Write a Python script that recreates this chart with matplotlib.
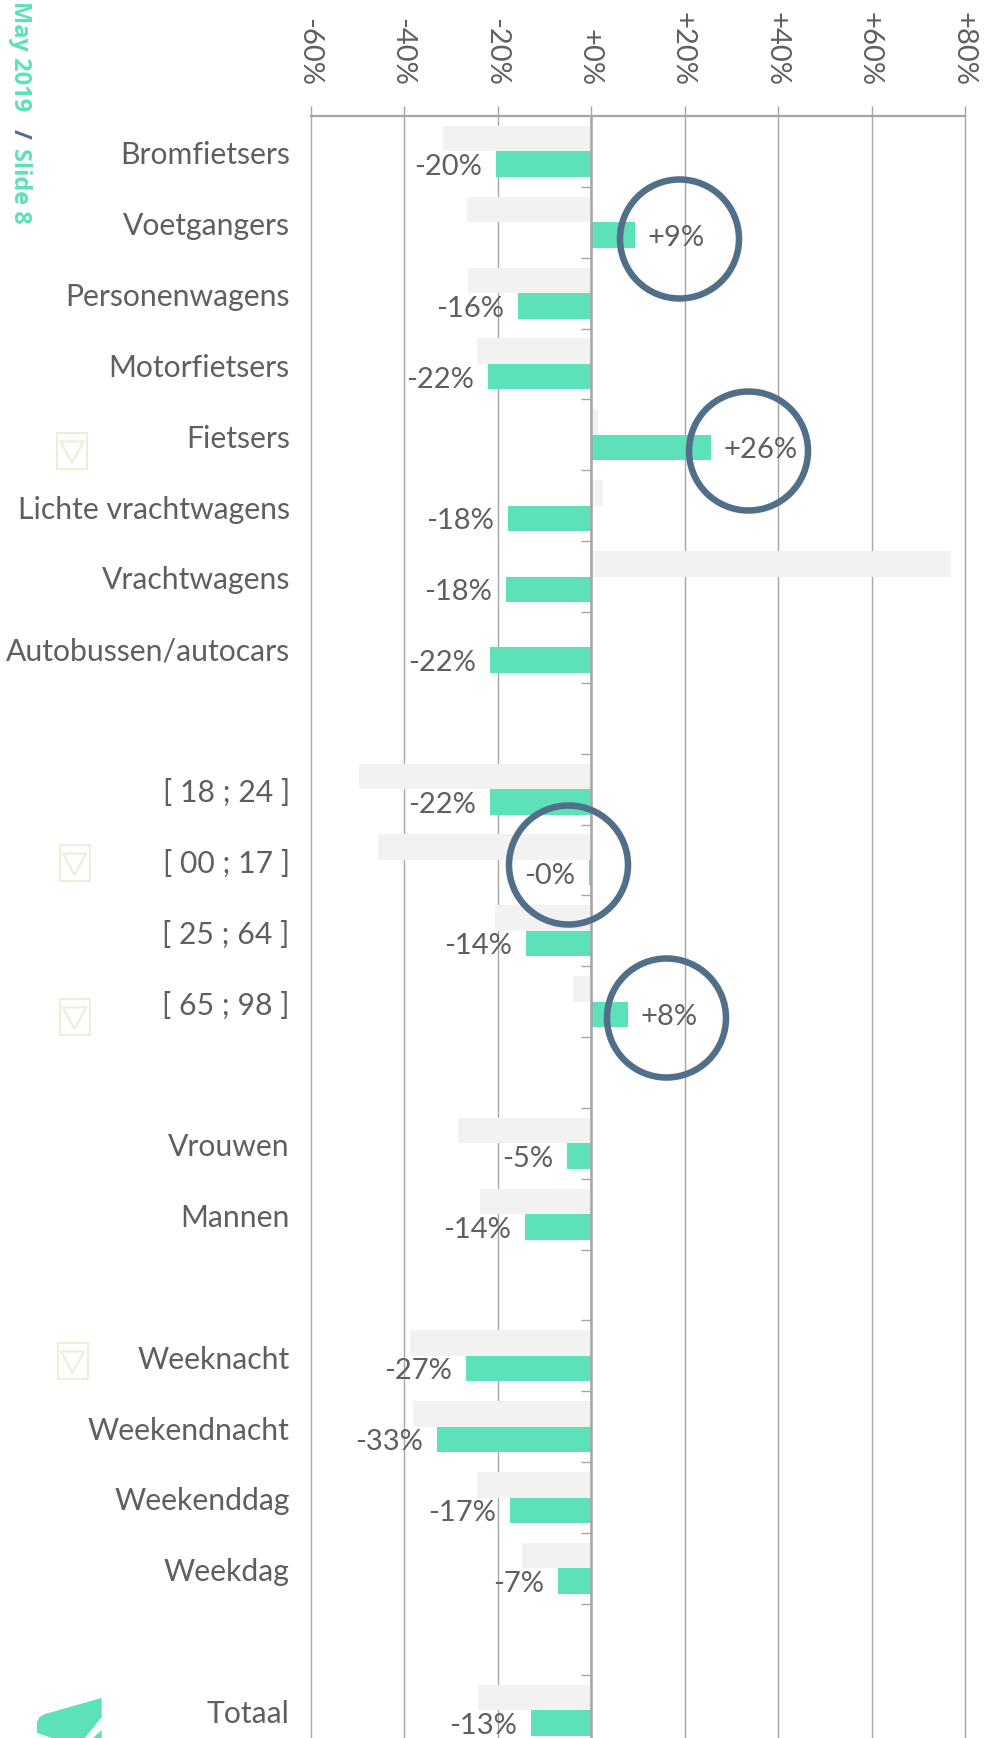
import matplotlib
matplotlib.use('Agg')
import matplotlib.pyplot as plt
from matplotlib.patches import Circle, Polygon, Rectangle
from matplotlib.transforms import IdentityTransform, ScaledTranslation

plt.rcParams['font.family'] = ['Lato', 'DejaVu Sans']

W, H = 987, 1738
TEXT = '#5f5f5f'
GREEN = '#5ce1b9'
LIGHT = '#f2f2f2'
BLUE = '#526f8a'
LINE = '#a6a6a6'
PALE = '#e9f0d9'

# top to bottom, blank rows separate the groups
categories = ['Bromfietsers', 'Voetgangers', 'Personenwagens', 'Motorfietsers', 'Fietsers',
              'Lichte vrachtwagens', 'Vrachtwagens', 'Autobussen/autocars', '',
              '[ 18 ; 24 ]', '[ 00 ; 17 ]', '[ 25 ; 64 ]', '[ 65 ; 98 ]', '',
              'Vrouwen', 'Mannen', '',
              'Weeknacht', 'Weekendnacht', 'Weekenddag', 'Weekdag', '',
              'Totaal']
previous = [-31.8, -26.6, -26.3, -24.4, 1.4, 2.6, 76.9, 0, None,
            -49.6, -45.5, -20.6, -3.8, None,
            -28.5, -23.7, None,
            -38.7, -38.2, -24.4, -14.7, None,
            -24.2]
current = [-20.4, 9.3, -15.7, -22.0, 25.6, -17.8, -18.3, -21.6, None,
           -21.6, -0.4, -14.0, 7.8, None,
           -5.2, -14.2, None,
           -26.8, -33.0, -17.4, -7.1, None,
           -12.8]
x_ticks = [-60, -40, -20, 0, 20, 40, 60, 80]

# overlay shapes, in pixels of the picture
circles = [(679.5, 239), (748.5, 451), (568.5, 865), (666.5, 1018)]
flags = [(56, 432), (58.5, 844), (58.5, 998), (56.5, 1342)]


def px(x, y):
    return x, H - y


fig = plt.figure(figsize=(W / 100, H / 100), dpi=100)
ax = fig.add_axes([310.7 / W, 0, (965.2 - 310.7) / W, (H - 116) / H])
n_rows = (H - 116) / 70.85
ax.set_xlim(-60, 80)
ax.set_ylim(n_rows, 0)

for i in range(len(categories)):
    if current[i] is None:
        continue
    ax.barh(i + 0.32, previous[i], height=0.36, color=LIGHT, zorder=1)
    ax.barh(i + 0.68, current[i], height=0.36, color=GREEN, zorder=2)
    off = 9 if current[i] > 0 else -10
    ax.annotate(f'{current[i]:+.0f}%', (current[i], i + 0.72), xytext=(off, 0),
                textcoords='offset points', ha='left' if current[i] > 0 else 'right',
                va='center', fontsize=21, color=TEXT, zorder=6)

# category labels, on the -60 line
ax.set_yticks([i + 0.52 for i in range(len(categories))])
ax.set_yticklabels(categories, fontsize=21.7, color=TEXT)
ax.tick_params(axis='y', length=0, pad=15)

# percent labels across the top
ax.xaxis.tick_top()
ax.set_xticks(x_ticks)
ax.set_xticklabels([f'{v:+d}%' for v in x_ticks], rotation=-90, fontsize=21, color=TEXT)
ax.tick_params(axis='x', length=7.5, width=1, color=LINE, pad=14)
ax.xaxis.grid(True, color=LINE, lw=1, zorder=0)
ax.set_axisbelow(True)
for line in ax.get_xgridlines():
    line.set_clip_on(False)
shift = ScaledTranslation(-2 / 100, 0, fig.dpi_scale_trans)
for label in ax.get_xticklabels():
    label.set_transform(label.get_transform() + shift)

for name in ['left', 'right', 'bottom']:
    ax.spines[name].set_visible(False)
ax.spines['top'].set_color(LINE)
ax.spines['top'].set_linewidth(1.6)

# zero line with the row ticks
zero = ax.secondary_yaxis(60 / 140)
zero.set_yticks(range(1, len(categories)))
zero.set_yticklabels([])
zero.tick_params(axis='y', length=7.5, width=1, color=LINE)
zero.spines['left'].set_color(LINE)
zero.spines['left'].set_linewidth(1.8)
zero.set_zorder(5)

for cx, cy in circles:
    fig.add_artist(Circle(px(cx, cy), 59.5, transform=IdentityTransform(), fill=False,
                          ec=BLUE, lw=4.7, zorder=8))

for fx, fy in flags:
    fig.add_artist(Rectangle(px(fx + 1, fy + 37), 30, 36, transform=IdentityTransform(),
                             fill=False, ec=PALE, lw=1.5))
    fig.add_artist(Polygon([px(fx + 4.5, fy + 9.5), px(fx + 27.5, fy + 9.5), px(fx + 16, fy + 31)],
                           transform=IdentityTransform(), fill=False, ec=PALE, lw=1.5))

# side note
side = dict(rotation=-90, ha='center', va='top', fontsize=17, fontweight='bold',
            family=['Open Sans', 'DejaVu Sans'], transform=IdentityTransform())
fig.text(*px(20, 1), 'May 2019', color=GREEN, **side)
fig.text(*px(20, 129), '/', color=BLUE, **side)
fig.text(*px(20, 148), 'Slide 8', color=GREEN, **side)

# logo, cut by the edge of the picture
fig.add_artist(Polygon([px(101.7, 1698), px(45, 1714), px(39.5, 1717), px(37, 1722), px(37, 1733),
                        px(52, 1738), px(85, 1738), px(101.7, 1717)],
                       transform=IdentityTransform(), fc=GREEN, ec='none'))
fig.add_artist(Polygon([px(101.7, 1730), px(93, 1738), px(101.7, 1738)],
                       transform=IdentityTransform(), fc=GREEN, ec='none'))

fig.savefig('out.png', dpi=100)
